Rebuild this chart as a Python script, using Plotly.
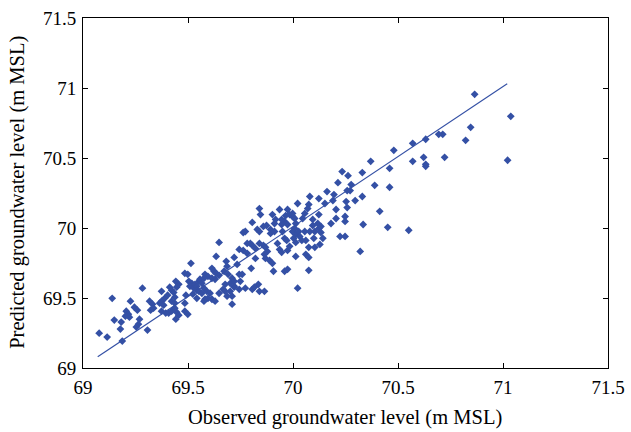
import plotly.graph_objects as go

observed = [
    69.077, 69.115, 69.187, 69.139, 69.149, 69.182, 69.178, 69.226, 69.206, 69.216,
    69.221, 69.202, 69.245, 69.259, 69.269, 69.264, 69.254, 69.283, 69.307, 69.317,
    69.331, 69.336, 69.322, 69.365, 69.374, 69.384, 69.374, 69.374, 69.394, 69.408,
    69.422, 69.389, 69.403, 69.413, 69.422, 69.442, 69.456, 69.446, 69.432, 69.437,
    69.422, 69.446, 69.456, 69.442, 69.437, 69.437, 69.485, 69.499, 69.514, 69.504,
    69.518, 69.509, 69.528, 69.533, 69.542, 69.552, 69.557, 69.566, 69.542, 69.490,
    69.485, 69.485, 69.499, 69.523, 69.542, 69.552, 69.566, 69.581, 69.576, 69.581,
    69.595, 69.576, 69.614, 69.624, 69.634, 69.648, 69.634, 69.648, 69.614, 69.629,
    69.590, 69.605, 69.595, 69.576, 69.614, 69.629, 69.648, 69.667, 69.686, 69.677,
    69.677, 69.682, 69.686, 69.672, 69.691, 69.710, 69.701, 69.720, 69.744, 69.710,
    69.720, 69.701, 69.744, 69.758, 69.734, 69.720, 69.744, 69.710, 69.720, 69.773,
    69.749, 69.763, 69.763, 69.782, 69.797, 69.806, 69.782, 69.806, 69.840, 69.835,
    69.801, 69.816, 69.864, 69.806, 69.840, 69.859, 69.869, 69.878, 69.821, 69.821,
    69.869, 69.864, 69.888, 69.902, 69.840, 69.845, 69.830, 69.840, 69.859, 69.773,
    69.874, 69.893, 69.893, 69.912, 69.902, 69.907, 69.960, 69.974, 69.926, 69.936,
    69.946, 69.974, 69.984, 69.917, 69.912, 69.936, 69.974, 69.984, 69.965, 69.960,
    69.946, 69.998, 70.008, 70.013, 69.946, 69.950, 69.960, 69.970, 69.974, 70.008,
    69.998, 70.013, 70.003, 70.013, 70.042, 70.013, 70.061, 70.027, 70.056, 70.080,
    70.104, 70.099, 70.123, 70.118, 70.142, 70.128, 70.181, 70.224, 70.022, 70.080,
    70.123, 70.152, 70.190, 70.162, 70.195, 70.214, 70.234, 70.262, 70.277, 70.272,
    70.258, 70.330, 70.330, 70.296, 70.253, 70.205, 70.258, 70.075, 70.070, 70.056,
    70.046, 69.998, 70.123, 70.094, 70.205, 70.248, 70.248, 70.133, 70.094, 70.133,
    70.061, 70.032, 70.075, 70.075, 70.075, 70.104, 70.248, 70.320, 70.334, 70.022,
    70.865, 71.037, 71.022, 70.846, 70.822, 70.713, 70.694, 70.632, 70.570, 70.480,
    70.370, 70.622, 70.722, 70.570, 70.632, 70.632, 70.460, 70.389, 70.460, 70.413,
    70.451, 70.551,
]

predicted = [
    69.249, 69.221, 69.192, 69.498, 69.342, 69.328, 69.278, 69.477, 69.406, 69.384,
    69.363, 69.370, 69.434, 69.413, 69.349, 69.313, 69.292, 69.570, 69.271, 69.477,
    69.456, 69.427, 69.413, 69.463, 69.477, 69.449, 69.548, 69.406, 69.392, 69.392,
    69.406, 69.498, 69.520, 69.577, 69.555, 69.619, 69.598, 69.577, 69.540, 69.506,
    69.477, 69.399, 69.377, 69.349, 69.427, 69.463, 69.676, 69.669, 69.748, 69.619,
    69.605, 69.584, 69.570, 69.598, 69.584, 69.619, 69.634, 69.605, 69.555, 69.520,
    69.463, 69.406, 69.384, 69.527, 69.498, 69.548, 69.534, 69.491, 69.570, 69.669,
    69.655, 69.641, 69.712, 69.691, 69.676, 69.662, 69.797, 69.897, 69.641, 69.634,
    69.548, 69.534, 69.498, 69.477, 69.491, 69.477, 69.534, 69.562, 69.513, 69.598,
    69.548, 69.762, 69.726, 69.691, 69.669, 69.456, 69.548, 69.584, 69.562, 69.641,
    69.619, 69.605, 69.669, 69.669, 69.740, 69.790, 69.847, 69.513, 69.577, 69.570,
    69.619, 69.968, 69.840, 69.890, 69.890, 69.876, 69.819, 69.562, 69.548, 69.598,
    69.712, 69.577, 69.548, 70.040, 69.890, 69.876, 69.862, 69.833, 69.854, 69.783,
    69.783, 69.812, 69.769, 69.748, 70.139, 70.096, 69.990, 69.975, 70.011, 69.975,
    70.018, 69.990, 69.961, 69.975, 70.096, 69.691, 69.691, 69.705, 69.890, 69.847,
    69.826, 69.840, 69.869, 70.061, 70.032, 70.132, 70.132, 70.096, 70.089, 70.047,
    70.025, 70.082, 70.068, 70.032, 70.061, 69.975, 69.926, 69.911, 70.025, 69.997,
    69.975, 69.954, 69.926, 69.897, 69.911, 69.797, 69.812, 69.975, 69.975, 69.975,
    69.975, 69.926, 69.997, 70.032, 69.926, 69.883, 70.032, 69.940, 70.175, 70.225,
    70.210, 70.175, 70.196, 70.260, 70.239, 70.324, 70.403, 70.374, 70.310, 70.267,
    70.267, 70.396, 70.225, 70.196, 70.189, 70.132, 70.146, 70.168, 70.139, 70.104,
    70.068, 70.104, 70.096, 70.061, 70.068, 70.082, 70.047, 70.011, 70.018, 69.968,
    69.911, 69.940, 69.698, 69.790, 69.862, 69.862, 69.940, 69.833, 70.025, 69.570,
    70.955, 70.798, 70.484, 70.719, 70.626, 70.669, 70.669, 70.634, 70.605, 70.555,
    70.476, 70.505, 70.505, 70.476, 70.455, 70.441, 70.426, 70.305, 70.291, 70.119,
    70.005, 69.984,
]

fit_x = [69.07, 71.02]
fit_y = [69.08, 71.03]

x_ticks = [69, 69.5, 70, 70.5, 71, 71.5]
y_ticks = [69, 69.5, 70, 70.5, 71, 71.5]

x_title = "Observed groundwater level (m MSL)"
y_title = "Predicted groundwater level (m MSL)"

blue = "rgb(52,80,165)"
font_family = "Liberation Serif, Times New Roman, serif"

fig = go.Figure()
fig.add_trace(go.Scatter(
    x=observed, y=predicted, mode="markers",
    marker=dict(symbol="diamond", size=6, color=blue, line=dict(width=0)),
    showlegend=False, cliponaxis=False,
))
fig.add_trace(go.Scatter(
    x=fit_x, y=fit_y, mode="lines",
    line=dict(color=blue, width=1.2),
    showlegend=False,
))

axis_common = dict(
    showgrid=False, zeroline=False, showline=True, linecolor="black", linewidth=1,
    mirror="ticks", ticks="inside", ticklen=5, tickcolor="black", tickwidth=1,
    tickfont=dict(family=font_family, size=19, color="black"),
    automargin=False, ticklabelstandoff=2,
)

fig.update_xaxes(range=[69, 71.5], tickvals=x_ticks, **axis_common)
fig.update_yaxes(range=[69, 71.5], tickvals=y_ticks, **axis_common)

title_font = dict(family=font_family, size=20.5, color="black")
fig.add_annotation(text=x_title, xref="paper", yref="paper", x=0.499, y=-0.14,
                   xanchor="center", yanchor="middle", showarrow=False, font=title_font)
fig.add_annotation(text=y_title, xref="paper", yref="paper", x=-0.124, y=0.503,
                   xanchor="center", yanchor="middle", showarrow=False, textangle=-90,
                   font=title_font)

fig.update_layout(
    width=631, height=432,
    margin=dict(l=83, r=23, t=18, b=64, autoexpand=False),
    plot_bgcolor="white", paper_bgcolor="white",
    font=dict(family=font_family, color="black"),
)

fig.write_html("out.html", config={"displayModeBar": False},
               post_script="document.body.style.margin='0';document.body.style.overflow='hidden';")
